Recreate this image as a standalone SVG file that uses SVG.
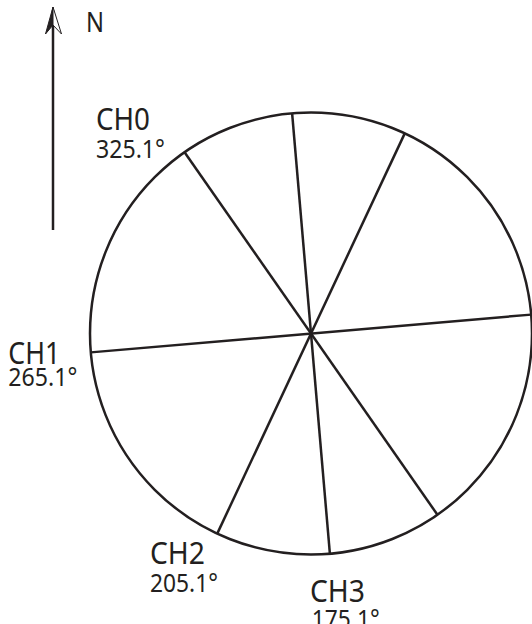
<svg xmlns="http://www.w3.org/2000/svg" width="532" height="624" viewBox="0 0 532 624">
<style>
.ln{stroke:#231f20;stroke-width:2.5;fill:none}
.lbl{font-family:"Noto Sans","Liberation Sans",sans-serif;fill:#231f20}
.ch{font-size:30px}
.deg{font-size:25px}
</style>
<rect width="532" height="624" fill="#fff"/>
<g id="north">
<line class="ln" x1="53" y1="10" x2="53" y2="230"/>
<polygon points="53,7 45.5,34 53,25" fill="#231f20" stroke="#231f20" stroke-width="1"/>
<polygon points="53,7 61.5,34 53,25" fill="#fff" stroke="#231f20" stroke-width="1"/>
<text class="lbl" x="86" y="31.7" font-size="28" textLength="18" lengthAdjust="spacingAndGlyphs">N</text>
</g>
<g id="circle">
<circle class="ln" cx="311" cy="333.5" r="221"/>
</g>
<g id="connectors">
<line class="ln" x1="0" y1="-221" x2="0" y2="221" transform="translate(311 333.5) rotate(-34.9)"/>
<line class="ln" x1="0" y1="-221" x2="0" y2="221" transform="translate(311 333.5) rotate(-4.9)"/>
<line class="ln" x1="0" y1="-221" x2="0" y2="221" transform="translate(311 333.5) rotate(25.1)"/>
<line class="ln" x1="0" y1="-221" x2="0" y2="221" transform="translate(311 333.5) rotate(85.1)"/>
</g>
<g id="ch0">
<text class="lbl ch" x="96" y="130" textLength="54" lengthAdjust="spacingAndGlyphs">CH0</text>
<text class="lbl deg" x="96" y="158.3" textLength="69" lengthAdjust="spacingAndGlyphs">325.1°</text>
</g>
<g id="ch1">
<text class="lbl ch" x="8.3" y="364" textLength="52" lengthAdjust="spacingAndGlyphs">CH1</text>
<text class="lbl deg" x="8.3" y="386" textLength="69" lengthAdjust="spacingAndGlyphs">265.1°</text>
</g>
<g id="ch2">
<text class="lbl ch" x="150" y="564" textLength="55" lengthAdjust="spacingAndGlyphs">CH2</text>
<text class="lbl deg" x="150" y="592" textLength="68" lengthAdjust="spacingAndGlyphs">205.1°</text>
</g>
<g id="ch3">
<text class="lbl ch" x="310" y="602" textLength="55" lengthAdjust="spacingAndGlyphs">CH3</text>
<text class="lbl deg" x="311.7" y="628" textLength="68" lengthAdjust="spacingAndGlyphs">175.1°</text>
</g>
</svg>
